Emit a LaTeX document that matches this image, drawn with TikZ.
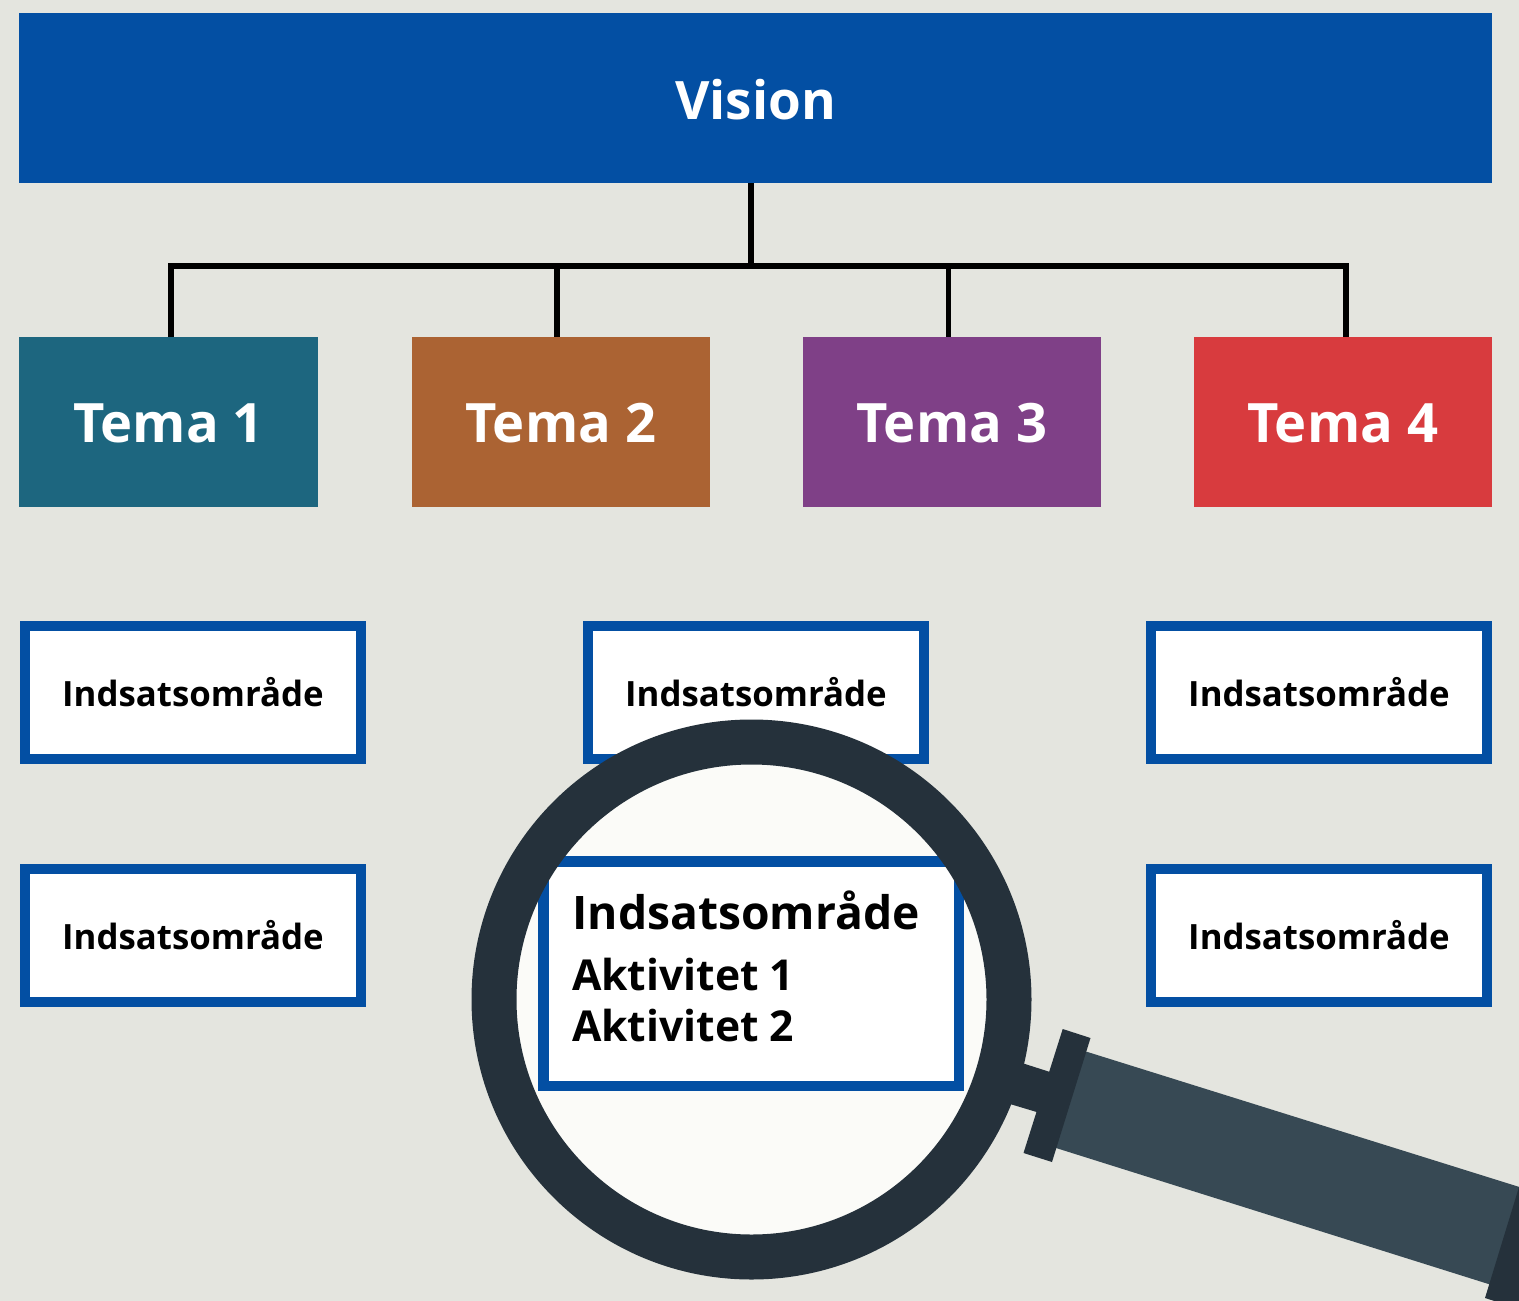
\documentclass[tikz,border=0pt]{standalone}
\usepackage{fontspec}
\setmainfont{Open Sans}
\definecolor{bgc}{HTML}{E4E5DF}
\definecolor{blu}{HTML}{034FA3}
\definecolor{t1c}{HTML}{1D667F}
\definecolor{t2c}{HTML}{AB6333}
\definecolor{t3c}{HTML}{7F4087}
\definecolor{t4c}{HTML}{D83B3E}
\definecolor{ringc}{HTML}{25313B}
\definecolor{handc}{HTML}{374954}
\definecolor{lensc}{HTML}{FBFBF8}
\newcommand{\lowered}[1]{\raisebox{-1.5pt}[\height][\depth]{#1}}
\tikzset{
  visionbox/.style={fill=blu,text=white,minimum width=1473pt,minimum height=170pt,inner sep=0pt,outer sep=0pt,font=\bfseries\fontsize{53}{60}\selectfont},
  temabox/.style={text=white,minimum width=298.5pt,minimum height=170pt,inner sep=0pt,outer sep=0pt,font=\bfseries\fontsize{54.3}{60}\selectfont},
  areabox/.style={draw=blu,line width=10.5pt,fill=white,text=black,minimum width=336pt,minimum height=133pt,inner sep=0pt,outer sep=0pt,font=\bfseries\fontsize{34.8}{40}\selectfont},
  conn/.style={draw=black,line width=5.5pt,line cap=butt,line join=miter},
  zoomtext/.style={anchor=base west,inner sep=0pt,outer sep=0pt,text=black,font=\bfseries\fontsize{46.2}{54}\selectfont},
  zoomsub/.style={anchor=base west,inner sep=0pt,outer sep=0pt,text=black,font=\bfseries\fontsize{42.6}{54}\selectfont}
}
\begin{document}
\begin{tikzpicture}[x=1pt,y=-1pt]
\useasboundingbox (0,0) rectangle (1519,1301);
\clip (0,0) rectangle (1519,1301);
\fill[bgc] (0,0) rectangle (1519,1301);
\node[visionbox] (vision) at (755.5,98) {\raisebox{-2pt}[\height][\depth]{Vision}};
\node[temabox,fill=t1c] (tema1) at (168.5,422) {\lowered{Tema 1}};
\node[temabox,fill=t2c] (tema2) at (560.75,422) {\lowered{Tema 2}};
\node[temabox,fill=t3c] (tema3) at (951.75,422) {\lowered{Tema 3}};
\node[temabox,fill=t4c] (tema4) at (1342.75,422) {\lowered{Tema 4}};
\coordinate (bus) at (751,266);
\coordinate (d1) at (171,266);
\coordinate (d2) at (557,266);
\coordinate (d3) at (948.7,266);
\coordinate (d4) at (1346,266);
\draw[conn] (bus |- vision.south) -- (bus);
\draw[conn] (d1 |- tema1.north) -- (d1) -- (d4) -- (d4 |- tema4.north);
\draw[conn] (d2) -- (d2 |- tema2.north);
\draw[conn] (d3) -- (d3 |- tema3.north);
\node[areabox] (a1) at (193,692.5) {Indsatsområde};
\node[areabox] (a2) at (756,692.5) {Indsatsområde};
\node[areabox] (a3) at (1319,692.5) {Indsatsområde};
\node[areabox] (a4) at (193,935.5) {Indsatsområde};
\node[areabox] (a5) at (1319,935.5) {Indsatsområde};
% handle
\fill[handc] (1077,1048.7) -- (1529,1190) -- (1498,1287) -- (1046.5,1145) -- cycle;
\fill[ringc] (1519,1187) -- (1485,1298) -- (1545,1317) -- (1579,1206) -- cycle;
\fill[ringc] (1000,1056) -- (1056,1073.9) -- (1043,1113.9) -- (990,1098) -- cycle;
\fill[ringc] (1062.7,1029) -- (1090.5,1038) -- (1052,1162) -- (1023.5,1153) -- cycle;
% lens
\coordinate (lens) at (751.5,999.5);
\fill[lensc] (lens) circle[radius=240];
\begin{scope}
\clip (lens) circle[radius=240];
\node[draw=blu,line width=10.5pt,fill=white,minimum width=415.5pt,minimum height=224.5pt,inner sep=0pt,outer sep=0pt] (zoombox) at (751,973.5) {};
\end{scope}
\draw[ringc,line width=45pt] (lens) circle[radius=257.5];
\node[zoomtext] (zt) at (572.5,929) {Indsatsområde};
\node[zoomsub] (z1) at (572,990) {Aktivitet 1};
\node[zoomsub] (z2) at (572,1041) {Aktivitet 2};
\end{tikzpicture}
\end{document}
